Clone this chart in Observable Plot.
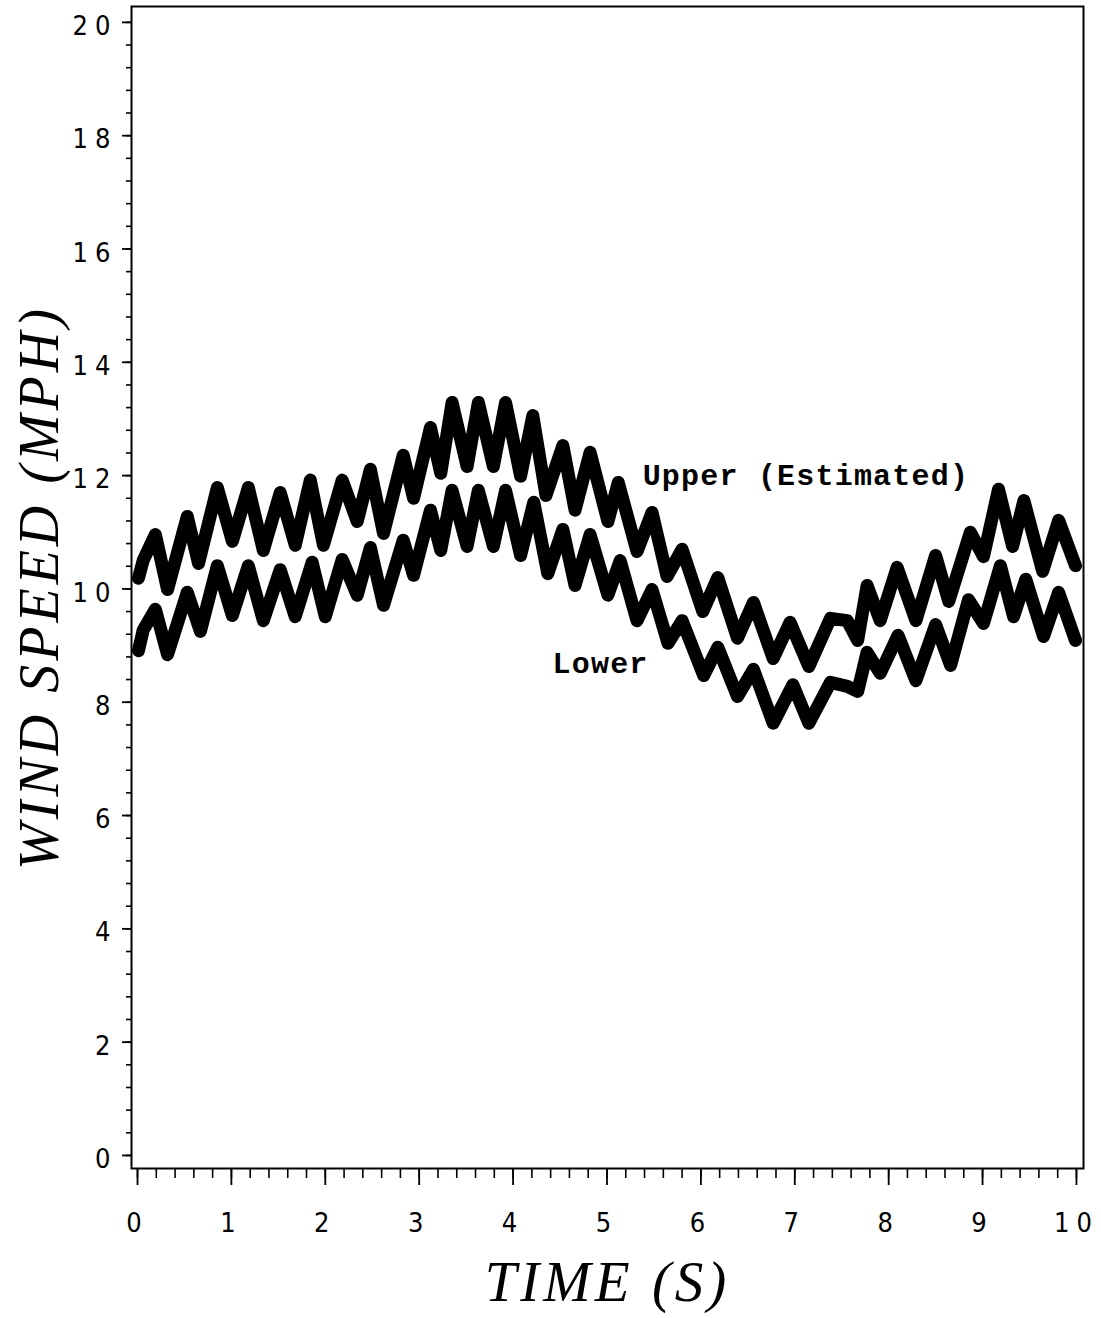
<!DOCTYPE html>
<html><head><meta charset="utf-8">
<script src="https://cdn.jsdelivr.net/npm/d3@7"></script>
<script src="https://cdn.jsdelivr.net/npm/@observablehq/plot@0.6"></script>
<style>body{margin:0;background:#fff;}</style>
</head><body><div id="chart"></div>
<script>
// Upper (Estimated) wind speed, time (s) and speed (mph), read at each wiggle peak/trough
const upperT = [0.01,0.06,0.19,0.32,0.53,0.65,0.85,1.01,1.18,1.34,1.52,1.68,1.84,1.98,2.18,2.34,2.48,2.62,2.83,2.94,3.12,3.23,3.35,3.51,3.63,3.79,3.92,4.08,4.21,4.35,4.53,4.66,4.82,5.01,5.12,5.32,5.48,5.64,5.80,6.02,6.18,6.39,6.56,6.77,6.95,7.15,7.38,7.56,7.67,7.77,7.91,8.09,8.29,8.50,8.64,8.87,9.01,9.17,9.32,9.44,9.64,9.81,9.99];
const upperV = [10.19,10.50,10.96,9.99,11.28,10.45,11.79,10.84,11.79,10.68,11.70,10.77,11.92,10.77,11.92,11.19,12.11,10.98,12.36,11.60,12.85,12.04,13.29,12.16,13.29,12.16,13.29,11.99,13.06,11.65,12.53,11.39,12.41,11.19,11.88,10.66,11.35,10.22,10.70,9.60,10.20,9.13,9.76,8.77,9.41,8.63,9.48,9.44,9.09,10.06,9.44,10.38,9.44,10.59,9.78,11.00,10.57,11.76,10.75,11.56,10.31,11.21,10.41];
// Lower wind speed
const lowerT = [0.01,0.06,0.19,0.32,0.53,0.67,0.85,1.01,1.18,1.34,1.52,1.68,1.86,2.00,2.18,2.34,2.48,2.62,2.83,2.94,3.12,3.23,3.35,3.51,3.63,3.79,3.92,4.08,4.22,4.37,4.53,4.66,4.82,5.01,5.14,5.32,5.48,5.65,5.80,6.03,6.18,6.39,6.56,6.77,6.98,7.15,7.38,7.56,7.67,7.77,7.91,8.10,8.29,8.50,8.66,8.85,9.01,9.19,9.33,9.46,9.65,9.81,9.99];
const lowerV = [8.91,9.27,9.64,8.84,9.94,9.25,10.41,9.53,10.41,9.44,10.34,9.51,10.47,9.51,10.52,9.89,10.73,9.71,10.86,10.24,11.39,10.68,11.74,10.75,11.74,10.75,11.74,10.59,11.53,10.27,11.05,10.06,10.96,9.89,10.50,9.44,9.99,9.04,9.44,8.47,8.97,8.10,8.58,7.63,8.31,7.63,8.35,8.28,8.19,8.88,8.51,9.18,8.38,9.37,8.65,9.81,9.39,10.41,9.51,10.17,9.16,9.94,9.09];

const yTicks = [0,2,4,6,8,10,12,14,16,18,20];
const xTicks = [0,1,2,3,4,5,6,7,8,9,10];
const yMinorTicks = d3.range(0, 20.001, 0.4);
const xMinorTicks = d3.range(0, 10.001, 0.2);

const seriesLabels = ["Upper (Estimated)", "Lower"];
const labelT = [5.38, 4.42];
const labelV = [12.0, 8.68];

const rows = [
  ...upperT.map((t, i) => ({t, v: upperV[i], series: "Upper"})),
  ...lowerT.map((t, i) => ({t, v: lowerV[i], series: "Lower"}))
];

const chart = Plot.plot({
  width: 1101, height: 1318,
  marginLeft: 131, marginRight: 18, marginTop: 6, marginBottom: 150,
  x: {domain: [-0.064, 10.075]},
  y: {domain: [-0.23, 20.28]},
  style: {fontFamily: "'Liberation Sans Narrow','DejaVu Sans Condensed',sans-serif", fontSize: "27px", color: "black", background: "white", overflow: "visible"},
  marks: [
    Plot.frame({stroke: "black", strokeWidth: 2}),
    Plot.axisY({ticks: yMinorTicks, tickSize: 5, tickFormat: () => "", label: null, strokeWidth: 1.6}),
    Plot.axisY({ticks: yTicks, tickSize: 9, tickFormat: () => "", label: null, strokeWidth: 1.8}),
    Plot.axisY({ticks: yTicks, tickSize: 0, tickPadding: 14, dy: 4, label: null}),
    Plot.axisX({ticks: xMinorTicks, tickSize: 10, tickFormat: () => "", label: null, strokeWidth: 1.6}),
    Plot.axisX({ticks: xTicks, tickSize: 17, tickFormat: () => "", label: null, strokeWidth: 1.8}),
    Plot.axisX({ticks: xTicks, tickSize: 0, tickPadding: 44, label: null}),
    Plot.line(rows, {x: "t", y: "v", z: "series", stroke: "black", strokeWidth: 13}),
    Plot.text(seriesLabels, {x: (d, i) => labelT[i], y: (d, i) => labelV[i], text: d => d, textAnchor: "start",
      fontFamily: "'Liberation Mono',monospace", fontWeight: "bold", fontSize: 30}),
    Plot.text(["WIND SPEED (MPH)"], {text: d => d, frameAnchor: "left", textAnchor: "middle", dx: -91, rotate: -90,
      fontFamily: "'Liberation Serif',serif", fontStyle: "italic", fontSize: 56}),
    Plot.text(["TIME (S)"], {text: d => d, frameAnchor: "bottom", textAnchor: "middle", dy: 132,
      fontFamily: "'Liberation Serif',serif", fontStyle: "italic", fontSize: 57})
  ]
});
document.getElementById("chart").appendChild(chart);
const svg = d3.select(chart);
svg.selectAll("g[aria-label='y-axis tick label'] text, g[aria-label='x-axis tick label'] text").style("letter-spacing", "7px");
svg.selectAll("text").filter(function() { return this.textContent === "WIND SPEED (MPH)" || this.textContent === "TIME (S)"; }).style("letter-spacing", "4px");
svg.selectAll("text").filter(function() { return this.textContent === "Upper (Estimated)" || this.textContent === "Lower"; }).style("letter-spacing", "1.2px");
</script>
</body></html>
